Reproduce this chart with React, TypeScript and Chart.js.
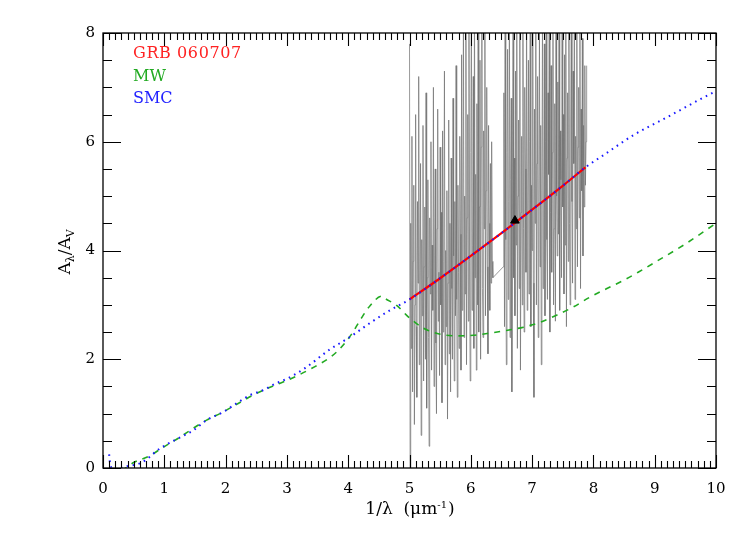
import React, { useEffect, useRef } from "react";
import { Chart, registerables } from "chart.js";

Chart.register(...registerables);

// Observed spectrum (gray), two segments separated by a gap
const SPEC_A_START = 5.0;
const SPEC_B_START = 6.53;
const SPEC_STEP = 0.01;
const specA = [
  7.8, 0.0, 4.5, 2.2, 6.1, 1.4, 3.8, 5.2, 0.8, 3.0,
  6.5, 2.6, 1.3, 4.9, 3.4, 7.2, 1.9, 3.1, 5.6, 0.6,
  4.2, 2.8, 6.3, 1.6, 3.7, 4.8, 2.0, 6.9, 1.1, 3.5,
  5.3, 2.4, 0.4, 4.6, 3.2, 6.0, 1.8, 4.1, 2.9, 7.0,
  1.5, 3.9, 5.5, 2.3, 1.0, 4.4, 6.6, 2.7, 3.6, 1.7,
  5.9, 3.0, 4.7, 1.2, 6.2, 2.5, 3.8, 7.3, 1.9, 4.0,
  2.6, 5.1, 0.9, 3.4, 6.4, 2.1, 4.5, 1.4, 5.7, 3.3,
  2.0, 6.8, 3.9, 1.6, 4.9, 2.8, 7.4, 3.1, 1.3, 5.2,
  3.6, 2.2, 6.1, 4.3, 1.8, 7.6, 2.9, 4.8, 8.5, 2.4,
  5.0, 3.2, 8.7, 1.9, 4.6, 6.5, 2.7, 8.3, 3.8, 1.6,
  5.8, 8.6, 2.9, 4.1, 7.2, 2.2, 8.9, 3.5, 5.4, 1.8,
  6.7, 3.0, 8.4, 2.5, 4.8, 7.5, 2.0, 5.9, 8.8, 3.3,
  2.4, 6.2, 4.4, 8.2, 2.8, 5.1, 7.0, 3.7, 2.1, 6.3,
  4.5, 2.9, 5.6, 3.4, 6.0, 3.8, 3.5,
];
const specB = [
  3.7, 6.9, 2.6, 8.4, 4.2, 1.9, 5.8, 7.7, 3.1, 4.9,
  8.6, 2.4, 5.3, 6.8, 1.4, 4.6, 8.9, 3.5, 5.7, 2.8,
  7.3, 4.1, 8.5, 2.2, 5.0, 6.4, 3.3, 8.2, 1.8, 4.7,
  6.1, 3.0, 8.7, 4.4, 2.5, 7.0, 5.5, 3.6, 8.8, 2.9,
  4.8, 7.5, 3.2, 6.0, 8.3, 2.6, 5.2, 4.0, 8.6, 3.4,
  1.3, 6.6, 4.5, 8.9, 3.0, 5.6, 7.2, 2.4, 4.9, 8.1,
  3.7, 6.3, 1.9, 5.1, 8.5, 3.3, 4.6, 7.8, 2.8, 6.0,
  8.7, 4.2, 3.1, 6.9, 5.4, 8.4, 2.5, 4.7, 7.4, 3.6,
  5.8, 8.9, 3.0, 4.4, 6.7, 2.7, 8.2, 5.0, 3.9, 7.1,
  4.3, 8.6, 2.9, 6.2, 5.3, 3.5, 8.8, 4.8, 6.5, 3.2,
  7.6, 4.1, 8.3, 2.6, 5.7, 6.9, 3.8, 8.7, 4.5, 3.0,
  6.4, 8.5, 4.9, 3.4, 7.3, 5.6, 8.9, 3.1, 6.1, 4.4,
  8.2, 3.7, 5.9, 7.0, 4.6, 8.6, 3.3, 6.6, 5.1, 7.9,
  3.9, 6.3, 4.8, 7.4, 5.2, 6.0, 7.4,
];

// GRB 060707 fit (red)
const fitX = [5.0, 5.5, 6.0, 6.5, 7.0, 7.5, 7.87];
const fitY = [3.1, 3.49, 3.9, 4.32, 4.75, 5.19, 5.53];

// Milky Way extinction curve (green dashed)
const mwX = [0.1, 0.3, 0.5, 0.77, 0.98, 1.26, 1.47, 1.69, 1.96, 2.24, 2.45, 2.67, 2.89, 3.1, 3.4, 3.7, 3.87, 4.06, 4.19, 4.36, 4.55, 4.6, 4.79, 4.98, 5.23, 5.5, 5.77, 6.04, 6.31, 6.58, 6.86, 7.13, 7.4, 7.67, 7.94, 8.22, 8.49, 8.73, 9.0, 9.5, 10.0];
const mwY = [-0.02, -0.03, 0.1, 0.23, 0.38, 0.57, 0.73, 0.88, 1.03, 1.21, 1.34, 1.46, 1.56, 1.66, 1.83, 2.03, 2.2, 2.47, 2.71, 2.99, 3.16, 3.12, 2.99, 2.78, 2.57, 2.46, 2.43, 2.44, 2.48, 2.53, 2.59, 2.68, 2.81, 2.96, 3.14, 3.3, 3.45, 3.6, 3.78, 4.12, 4.5];

// SMC extinction curve (blue dotted)
const smcX = [0.1, 0.12, 0.2, 0.38, 0.63, 0.93, 1.22, 1.47, 1.69, 1.96, 2.18, 2.4, 2.61, 2.83, 3.0, 3.3, 3.7, 4.03, 4.36, 4.68, 5.0, 5.5, 6.0, 6.5, 7.0, 7.5, 7.87, 8.16, 8.65, 9.2, 9.74, 10.0];
const smcY = [0.25, 0.05, -0.03, 0.03, 0.1, 0.36, 0.54, 0.69, 0.88, 1.03, 1.19, 1.34, 1.43, 1.56, 1.64, 1.84, 2.18, 2.41, 2.67, 2.9, 3.1, 3.49, 3.9, 4.32, 4.75, 5.19, 5.53, 5.75, 6.12, 6.45, 6.78, 6.93];

// Marker point
const markerX = [6.72];
const markerY = [4.55];

const xTicks = [0, 1, 2, 3, 4, 5, 6, 7, 8, 9, 10];
const yTicks = [0, 2, 4, 6, 8];

const legendLabels = ["GRB 060707", "MW", "SMC"];
const legendColors = ["#ff2222", "#22aa22", "#2222ff"];

const SERIF = '"DejaVu Serif", serif';

const zip = (xs: number[], ys: number[]) => xs.map((x, i) => ({ x, y: ys[i] }));

const decorPlugin = {
  id: "decor",
  afterDraw(chart: any) {
    const ctx = chart.ctx as CanvasRenderingContext2D;
    const xs = chart.scales.x;
    const ys = chart.scales.y;
    const a = chart.chartArea;
    ctx.save();
    ctx.strokeStyle = "#000";
    ctx.lineWidth = 1.3;
    ctx.strokeRect(a.left, a.top, a.right - a.left, a.bottom - a.top);
    ctx.lineWidth = 1.1;
    ctx.beginPath();
    for (let i = 0; i <= 100; i++) {
      const v = i / 10;
      const px = Math.round(xs.getPixelForValue(v)) + 0.5;
      const len = i % 10 === 0 ? 13 : 7;
      ctx.moveTo(px, a.bottom);
      ctx.lineTo(px, a.bottom - len);
      ctx.moveTo(px, a.top);
      ctx.lineTo(px, a.top + len);
    }
    for (let i = 0; i <= 16; i++) {
      const v = i / 2;
      const py = Math.round(ys.getPixelForValue(v)) + 0.5;
      const len = i % 4 === 0 ? 18 : 9;
      ctx.moveTo(a.left, py);
      ctx.lineTo(a.left + len, py);
      ctx.moveTo(a.right, py);
      ctx.lineTo(a.right - len, py);
    }
    ctx.stroke();

    // legend text
    ctx.textBaseline = "middle";
    ctx.textAlign = "left";
    ctx.font = `16px ${SERIF}`;
    const ly = [54, 77, 99];
    legendLabels.forEach((t, i) => {
      ctx.fillStyle = legendColors[i];
      (ctx as any).letterSpacing = i === 0 ? "0.6px" : "0px";
      ctx.fillText(t, 133, ly[i]);
    });
    (ctx as any).letterSpacing = "0px";

    // x title: 1/λ (μm^-1)
    ctx.fillStyle = "#000";
    const big = `17px ${SERIF}`;
    const small = `10px ${SERIF}`;
    const p1 = "1/λ  (μm";
    const p2 = "-1";
    const p3 = ")";
    ctx.font = big;
    const w1 = ctx.measureText(p1).width;
    const w3 = ctx.measureText(p3).width;
    ctx.font = small;
    const w2 = ctx.measureText(p2).width + 1;
    const total = w1 + w2 + w3;
    let cx = 410 - total / 2;
    const ty = 510;
    ctx.font = big;
    ctx.fillText(p1, cx, ty);
    cx += w1;
    ctx.font = small;
    ctx.fillText(p2, cx, ty - 5);
    cx += w2;
    ctx.font = big;
    ctx.fillText(p3, cx, ty);

    // y title: A_λ / A_V (rotated)
    ctx.save();
    ctx.translate(66, 252);
    ctx.rotate(-Math.PI / 2);
    const parts = [
      { t: "A", f: big, dy: 0 },
      { t: "λ", f: `11px ${SERIF}`, dy: 5 },
      { t: "/A", f: big, dy: 0 },
      { t: "V", f: `11px ${SERIF}`, dy: 5 },
    ];
    let tw = 0;
    parts.forEach((p) => {
      ctx.font = p.f;
      tw += ctx.measureText(p.t).width;
    });
    let px0 = -tw / 2;
    parts.forEach((p) => {
      ctx.font = p.f;
      ctx.fillText(p.t, px0, p.dy);
      px0 += ctx.measureText(p.t).width;
    });
    ctx.restore();
    ctx.restore();
  },
};

export default function App() {
  const ref = useRef<HTMLCanvasElement | null>(null);
  useEffect(() => {
    if (!ref.current) return;
    const specData = [
      ...specA.map((y, i) => ({ x: SPEC_A_START + i * SPEC_STEP, y })),
      ...specB.map((y, i) => ({ x: SPEC_B_START + i * SPEC_STEP, y })),
    ];
    const chart = new Chart(ref.current, {
      type: "scatter",
      data: {
        datasets: [
          {
            label: "spectrum",
            data: specData,
            showLine: true,
            borderColor: "rgba(115,115,115,0.72)",
            borderWidth: 1,
            pointRadius: 0,
            tension: 0,
            order: 5,
          },
          {
            label: "GRB 060707",
            data: zip(fitX, fitY),
            showLine: true,
            borderColor: "#ff0000",
            borderWidth: 2.2,
            pointRadius: 0,
            cubicInterpolationMode: "monotone",
            order: 4,
          },
          {
            label: "MW",
            data: zip(mwX, mwY),
            showLine: true,
            borderColor: "#22aa22",
            borderWidth: 1.6,
            borderDash: [6, 6],
            pointRadius: 0,
            cubicInterpolationMode: "monotone",
            order: 3,
          },
          {
            label: "SMC",
            data: zip(smcX, smcY),
            showLine: true,
            borderColor: "#1a1aff",
            borderWidth: 2,
            borderDash: [1.6, 4.4],
            pointRadius: 0,
            cubicInterpolationMode: "monotone",
            order: 2,
          },
          {
            label: "marker",
            data: zip(markerX, markerY),
            showLine: false,
            pointStyle: "triangle",
            pointRadius: 5,
            backgroundColor: "#000",
            borderColor: "#000",
            borderWidth: 1,
            order: 1,
          },
        ],
      },
      options: {
        responsive: false,
        animation: false,
        layout: { padding: { left: 0, top: 33, right: 31, bottom: 0 } },
        plugins: {
          legend: { display: false },
          tooltip: { enabled: false },
        },
        scales: {
          x: {
            type: "linear",
            min: 0,
            max: 10,
            afterBuildTicks: (s: any) => {
              s.ticks = xTicks.map((v) => ({ value: v }));
            },
            afterFit: (s: any) => {
              s.height = 66;
            },
            ticks: {
              font: { family: "DejaVu Serif", size: 15 },
              color: "#000",
              padding: 12,
              maxRotation: 0,
              autoSkip: false,
            },
            grid: { display: false, drawTicks: false, tickLength: 0 },
            border: { display: false },
          },
          y: {
            type: "linear",
            min: 0,
            max: 8,
            afterBuildTicks: (s: any) => {
              s.ticks = yTicks.map((v) => ({ value: v }));
            },
            afterFit: (s: any) => {
              s.width = 103;
            },
            ticks: {
              font: { family: "DejaVu Serif", size: 15 },
              color: "#000",
              padding: 8,
              autoSkip: false,
            },
            grid: { display: false, drawTicks: false, tickLength: 0 },
            border: { display: false },
          },
        },
      },
      plugins: [decorPlugin],
    } as any);
    return () => chart.destroy();
  }, []);
  return (
    <div style={{ position: "fixed", left: 0, top: 0, width: 747, height: 534, background: "#fff" }}>
      <canvas ref={ref} width={747} height={534} style={{ display: "block" }} />
    </div>
  );
}
